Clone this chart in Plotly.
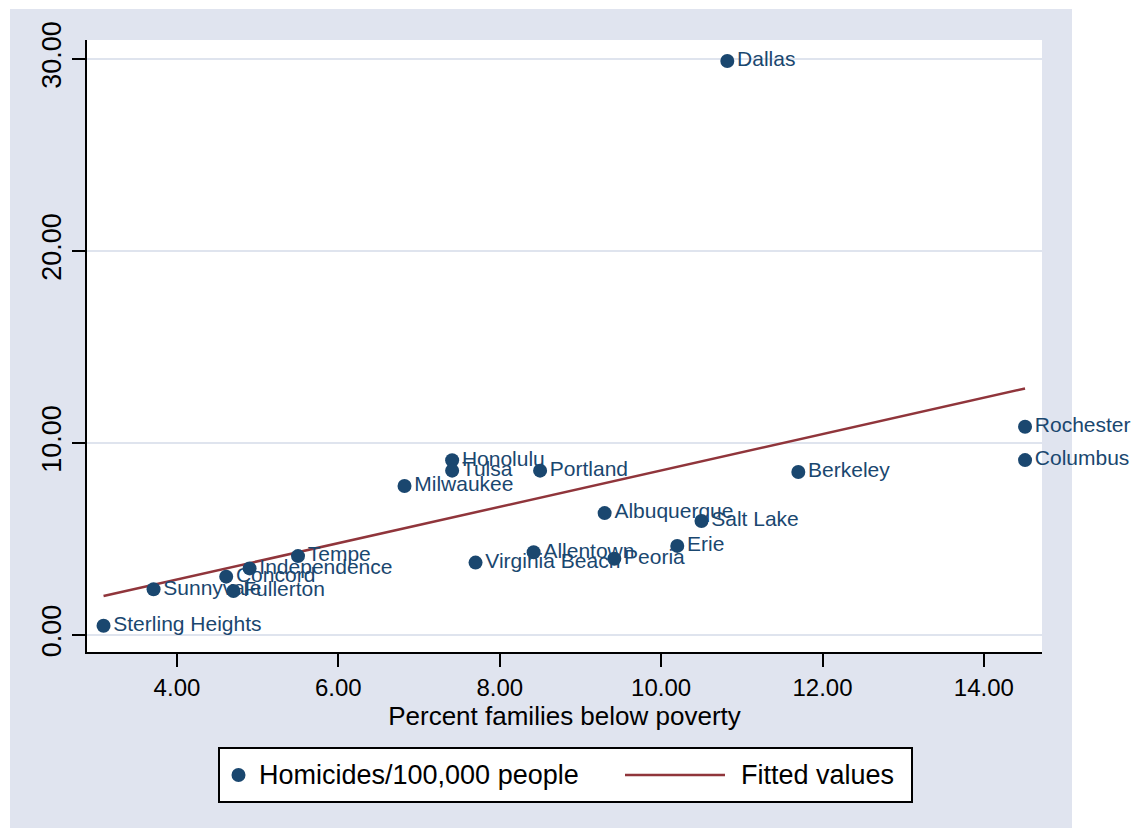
import numpy as np
import plotly.graph_objects as go

# ---------------- data ----------------
cities = ["Dallas", "Rochester", "Columbus", "Berkeley", "Honolulu", "Tulsa",
          "Portland", "Milwaukee", "Albuquerque", "Salt Lake", "Erie",
          "Allentown", "Peoria", "Virginia Beach", "Tempe", "Independence",
          "Concord", "Sunnyvale", "Fullerton", "Sterling Heights"]
poverty = [10.82, 14.51, 14.51, 11.70, 7.41, 7.41,
           8.50, 6.82, 9.30, 10.50, 10.20,
           8.42, 9.42, 7.70, 5.50, 4.90,
           4.61, 3.71, 4.70, 3.09]
homicides = [29.9, 10.85, 9.11, 8.49, 9.10, 8.56,
             8.56, 7.76, 6.35, 5.94, 4.64,
             4.31, 3.97, 3.77, 4.11, 3.47,
             3.04, 2.38, 2.29, 0.48]
x_ticks = [4, 6, 8, 10, 12, 14]
y_ticks = [0, 10, 20, 30]
x_title = "Percent families below poverty"
legend_labels = ["Homicides/100,000 people", "Fitted values"]

# ---------------- styling ----------------
W, H = 1133, 836
L, R, T, B = 87, 1042, 40, 652           # plot area in page pixels
NAVY = "#1a476f"
MAROON = "#90353b"
BG = "#e0e4ef"
GRID = "#dfe4ee"
FONT = "Liberation Sans, Arial, sans-serif"


def px(xp):
    return (xp - L) / (R - L)


def py(yp):
    return (B - yp) / (B - T)


xarr = np.array(poverty)
yarr = np.array(homicides)
slope, intercept = np.polyfit(xarr, yarr, 1)
xfit = np.array([xarr.min(), xarr.max()])
yfit = intercept + slope * xfit

fig = go.Figure()
fig.add_trace(go.Scatter(
    x=xfit, y=yfit, mode="lines",
    line=dict(color=MAROON, width=2.5),
    name=legend_labels[1], showlegend=False, hoverinfo="skip"))
fig.add_trace(go.Scatter(
    x=poverty, y=homicides, mode="markers+text",
    text=cities, textposition="middle right",
    textfont=dict(family=FONT, size=21, color=NAVY),
    marker=dict(color=NAVY, size=14, line=dict(width=0)),
    name=legend_labels[0], showlegend=False, cliponaxis=False))

shapes = [
    # outer graph region
    dict(type="rect", xref="paper", yref="paper", layer="below",
         x0=px(10), x1=px(1072), y0=py(9), y1=py(828),
         fillcolor=BG, line=dict(width=0)),
    # white plot region
    dict(type="rect", xref="paper", yref="paper", layer="below",
         x0=0, x1=1, y0=0, y1=1, fillcolor="white", line=dict(width=0)),
    # legend box
    dict(type="rect", xref="paper", yref="paper",
         x0=px(219), x1=px(912), y0=py(748), y1=py(802),
         fillcolor="white", line=dict(color="black", width=2)),
    # legend marker
    dict(type="circle", xref="paper", yref="paper",
         x0=px(231.5), x1=px(245.5), y0=py(768), y1=py(782),
         fillcolor=NAVY, line=dict(width=0)),
    # legend line
    dict(type="line", xref="paper", yref="paper",
         x0=px(625), x1=px(725), y0=py(775), y1=py(775),
         line=dict(color=MAROON, width=2.5)),
]

annotations = [
    dict(xref="paper", yref="paper", x=px(257), y=py(775), xanchor="left",
         yanchor="middle", text=legend_labels[0], showarrow=False,
         font=dict(family=FONT, size=27, color="black")),
    dict(xref="paper", yref="paper", x=px(739), y=py(775), xanchor="left",
         yanchor="middle", text=legend_labels[1], showarrow=False,
         font=dict(family=FONT, size=27, color="black")),
]

fig.update_layout(
    width=W, height=H,
    margin=dict(l=L, r=W - R, t=T, b=H - B, pad=0),
    paper_bgcolor="white", plot_bgcolor="rgba(0,0,0,0)",
    showlegend=False,
    shapes=shapes, annotations=annotations,
    font=dict(family=FONT, color="black"),
    xaxis=dict(
        range=[2.885, 14.72], tickvals=x_ticks, tickformat=".2f",
        showgrid=False, zeroline=False,
        showline=True, linecolor="black", linewidth=2,
        ticks="outside", ticklen=13, tickwidth=2, tickcolor="black",
        tickfont=dict(family=FONT, size=24, color="black"),
        title=dict(text=x_title, font=dict(family=FONT, size=26, color="black"),
                   standoff=4),
    ),
    yaxis=dict(
        range=[-0.885, 30.99], tickvals=y_ticks, tickformat=".2f",
        showgrid=True, gridcolor=GRID, gridwidth=2, zeroline=False,
        showline=True, linecolor="black", linewidth=2,
        ticks="outside", ticklen=13, tickwidth=2, tickcolor="black",
        tickangle=-90,
        tickfont=dict(family=FONT, size=27, color="black"),
    ),
)

fig.write_html(
    "out.html",
    config={"displayModeBar": False},
    post_script="document.body.style.margin='0';"
                "document.body.style.overflow='hidden';",
)
